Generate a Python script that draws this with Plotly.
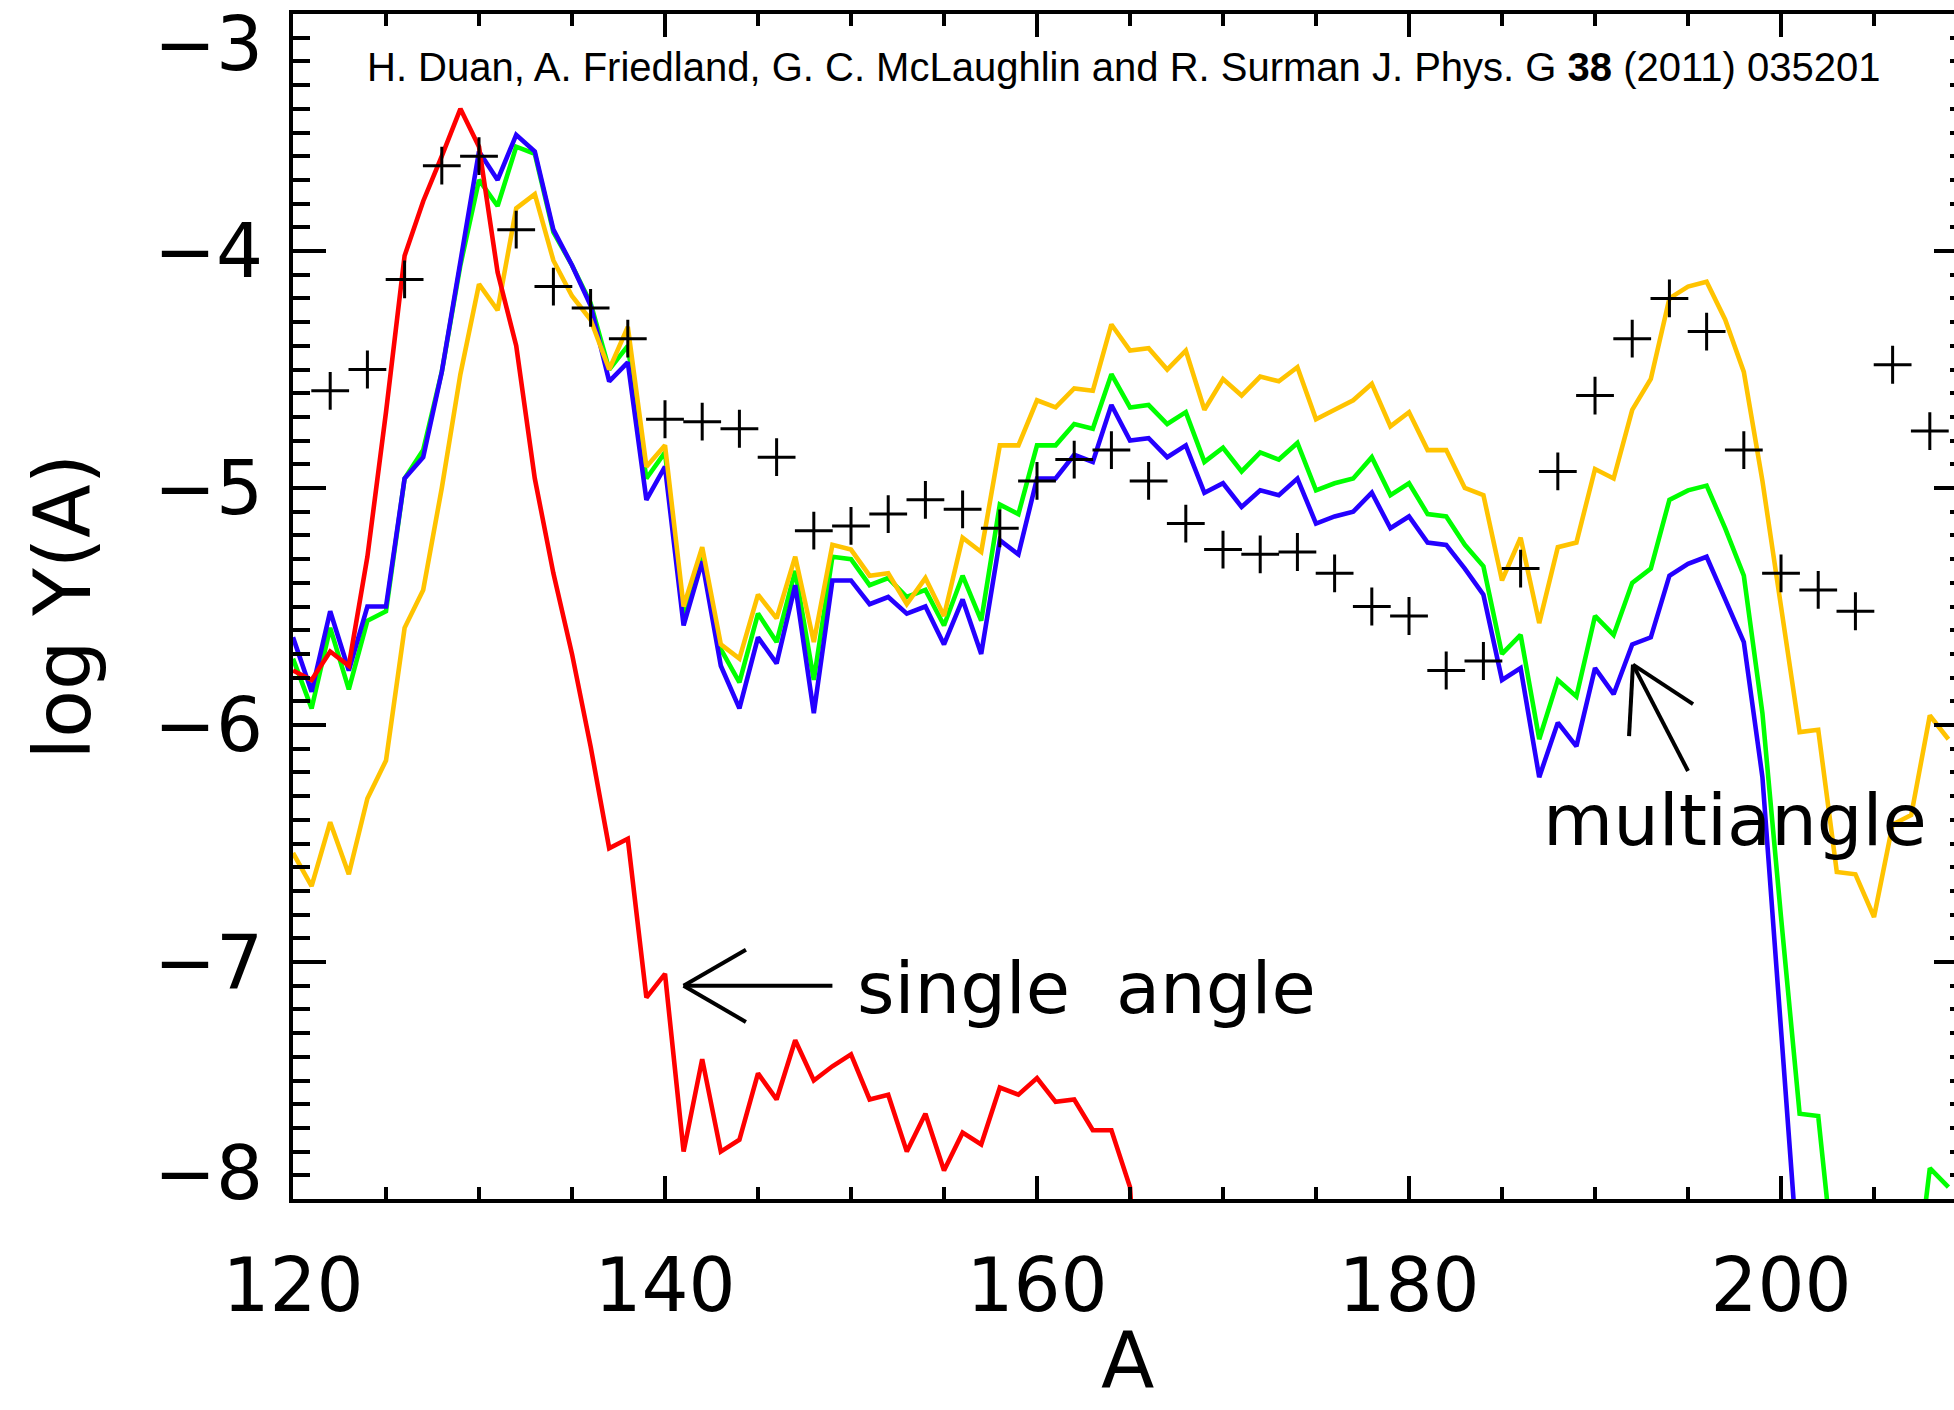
import plotly.graph_objects as go

# ---------------- data ----------------
A = list(range(120, 210))

red_A = list(range(120, 167))
red = [-5.77, -5.81, -5.69, -5.75, -5.29, -4.68, -4.02, -3.79, -3.60, -3.40,
       -3.56, -4.09, -4.40, -4.96, -5.36, -5.70, -6.09, -6.52, -6.48, -7.15,
       -7.05, -7.80, -7.41, -7.80, -7.75, -7.47, -7.58, -7.33, -7.50, -7.44,
       -7.39, -7.58, -7.56, -7.80, -7.64, -7.88, -7.72, -7.77, -7.53, -7.56,
       -7.49, -7.59, -7.58, -7.71, -7.71, -7.95, -9.20]

green = [-5.72, -5.93, -5.59, -5.85, -5.56, -5.52, -4.96, -4.84, -4.51, -4.06,
         -3.70, -3.81, -3.56, -3.59, -3.92, -4.06, -4.22, -4.50, -4.40, -4.96,
         -4.85, -5.53, -5.28, -5.68, -5.82, -5.53, -5.65, -5.35, -5.81, -5.29,
         -5.30, -5.41, -5.38, -5.46, -5.43, -5.58, -5.37, -5.56, -5.07, -5.11,
         -4.82, -4.82, -4.73, -4.75, -4.52, -4.66, -4.65, -4.73, -4.68, -4.89,
         -4.83, -4.93, -4.85, -4.88, -4.81, -5.01, -4.98, -4.96, -4.87, -5.03,
         -4.98, -5.11, -5.12, -5.24, -5.33, -5.70, -5.62, -6.06, -5.81, -5.88,
         -5.54, -5.62, -5.40, -5.34, -5.05, -5.01, -4.99, -5.17, -5.37, -5.95,
         -6.81, -7.64, -7.65, -8.40, -8.90, -9.10, -9.00, -8.52, -7.87, -7.95]

blue = [-5.63, -5.86, -5.52, -5.77, -5.50, -5.50, -4.96, -4.87, -4.51, -4.05,
        -3.58, -3.70, -3.51, -3.58, -3.91, -4.06, -4.23, -4.55, -4.47, -5.05,
        -4.91, -5.58, -5.31, -5.75, -5.93, -5.63, -5.74, -5.41, -5.95, -5.39,
        -5.39, -5.49, -5.46, -5.53, -5.50, -5.66, -5.47, -5.70, -5.22, -5.28,
        -4.96, -4.96, -4.86, -4.89, -4.65, -4.80, -4.79, -4.87, -4.82, -5.02,
        -4.98, -5.08, -5.01, -5.03, -4.96, -5.15, -5.12, -5.10, -5.02, -5.17,
        -5.12, -5.23, -5.24, -5.34, -5.45, -5.81, -5.76, -6.22, -5.99, -6.09,
        -5.76, -5.87, -5.66, -5.63, -5.37, -5.32, -5.29, -5.47, -5.65, -6.22,
        -7.27, -8.35, -8.90, -9.20, -9.30, -9.30, -9.40, -9.40, -9.50, -9.50]

yellow = [-6.54, -6.68, -6.41, -6.63, -6.31, -6.15, -5.59, -5.43, -5.00, -4.52,
          -4.14, -4.25, -3.82, -3.76, -4.04, -4.19, -4.29, -4.50, -4.32, -4.91,
          -4.82, -5.50, -5.25, -5.66, -5.72, -5.45, -5.55, -5.29, -5.65, -5.24,
          -5.26, -5.37, -5.36, -5.49, -5.38, -5.54, -5.21, -5.27, -4.82, -4.82,
          -4.63, -4.66, -4.58, -4.59, -4.31, -4.42, -4.41, -4.50, -4.42, -4.67,
          -4.54, -4.61, -4.53, -4.55, -4.49, -4.71, -4.67, -4.63, -4.56, -4.74,
          -4.68, -4.84, -4.84, -5.00, -5.03, -5.39, -5.21, -5.57, -5.25, -5.23,
          -4.92, -4.96, -4.67, -4.54, -4.20, -4.15, -4.13, -4.29, -4.51, -4.97,
          -5.50, -6.03, -6.02, -6.62, -6.63, -6.81, -6.42, -6.38, -5.96, -6.06]

obs_A = list(range(122, 209, 2))
obs = [-4.59, -4.50, -4.12, -3.64, -3.60, -3.91, -4.15, -4.24, -4.37, -4.71,
       -4.72, -4.75, -4.87, -5.18, -5.16, -5.11, -5.05, -5.09, -5.17, -4.97,
       -4.88, -4.84, -4.97, -5.15, -5.26, -5.28, -5.27, -5.36, -5.50, -5.54,
       -5.77, -5.73, -5.34, -4.93, -4.61, -4.37, -4.20, -4.34, -4.84, -5.36,
       -5.43, -5.52, -4.48, -4.76]

x_ticks = [120, 140, 160, 180, 200]
y_ticks = [-8, -7, -6, -5, -4, -3]
y_tick_text = ["\u22128", "\u22127", "\u22126", "\u22125", "\u22124", "\u22123"]

citation = ("H. Duan, A. Friedland, G. C. McLaughlin and R. Surman J. Phys. G "
            "<b>38</b> (2011) 035201")

# annotation arrows (open arrowheads): (x0, y0, x1, y1)
single_arrow = [(149.0, -7.10, 141.0, -7.10),
                (141.0, -7.10, 144.35, -6.948),
                (141.0, -7.10, 144.35, -7.253)]
multi_arrow = [(195.0, -6.194, 192.04, -5.745),
               (192.04, -5.745, 191.83, -6.047),
               (192.04, -5.745, 195.27, -5.912)]

# ---------------- figure ----------------
LW = 4.6
fig = go.Figure()
fig.add_trace(go.Scatter(x=A, y=green, mode="lines",
                         line=dict(color="#00FF00", width=LW), showlegend=False))
fig.add_trace(go.Scatter(x=A, y=blue, mode="lines",
                         line=dict(color="#2400FF", width=LW), showlegend=False))
fig.add_trace(go.Scatter(x=A, y=yellow, mode="lines",
                         line=dict(color="#FFC300", width=LW), showlegend=False))
fig.add_trace(go.Scatter(x=red_A, y=red, mode="lines",
                         line=dict(color="#FF0000", width=LW), showlegend=False))
fig.add_trace(go.Scatter(x=obs_A, y=obs, mode="markers",
                         marker=dict(symbol="cross-thin", size=27, color="black",
                                     line=dict(color="black", width=3)),
                         showlegend=False))
# invisible trace to create the right-hand tick axis
fig.add_trace(go.Scatter(x=[None], y=[None], yaxis="y2", showlegend=False,
                         hoverinfo="skip"))

TICKFONT = dict(family="DejaVu Sans", size=74, color="black")
TITLEFONT = dict(family="DejaVu Sans", size=78, color="black")

fig.update_layout(
    width=1954, height=1410, autosize=False,
    margin=dict(l=293, r=0, t=14, b=211, pad=0),
    paper_bgcolor="white", plot_bgcolor="white",
    xaxis=dict(range=[120, 209.3], showgrid=False, zeroline=False,
               showline=True, linecolor="black", linewidth=4, mirror="ticks",
               ticks="inside", ticklen=23, tickwidth=4, tickcolor="black",
               tickvals=x_ticks, tickfont=TICKFONT, ticklabelstandoff=19,
               minor=dict(dtick=5, tick0=120, ticks="inside", ticklen=12,
                          tickwidth=4, tickcolor="black", showgrid=False)),
    yaxis=dict(range=[-8, -3], showgrid=False, zeroline=False,
               showline=True, linecolor="black", linewidth=4,
               ticks="inside", ticklen=33, tickwidth=4, tickcolor="black",
               tickvals=y_ticks, showticklabels=False,
               minor=dict(dtick=0.1, tick0=-8, ticks="inside", ticklen=17,
                          tickwidth=4, tickcolor="black", showgrid=False)),
    yaxis2=dict(range=[-8, -3], overlaying="y", side="right", showgrid=False,
                zeroline=False, showline=False, ticks="inside", ticklen=20,
                tickwidth=4, tickcolor="black", tickvals=y_ticks,
                showticklabels=False,
                minor=dict(dtick=0.1, tick0=-8, ticks="inside", ticklen=4,
                           tickwidth=4, tickcolor="black", showgrid=False)),
)

annotations = []
for v, t in zip(y_ticks, y_tick_text):
    shift = 0
    if v == -3:
        shift = -30
    elif v == -8:
        shift = 26
    annotations.append(dict(x=0, xref="paper", y=v, yref="y", text=t,
                            showarrow=False, xanchor="right", yanchor="middle",
                            xshift=-28, yshift=shift, font=TICKFONT))
annotations.append(dict(x=0, xref="paper", y=0.5, yref="paper", text="log Y(A)",
                        showarrow=False, textangle=-90, xanchor="center",
                        yanchor="middle", xshift=-231, font=TITLEFONT))
annotations.append(dict(x=0.5, xref="paper", y=0, yref="paper", text="A",
                        showarrow=False, xanchor="center", yanchor="bottom",
                        xshift=4, yshift=-209, font=TITLEFONT))
annotations.append(dict(x=0.5, xref="paper", y=1, yref="paper", text=citation,
                        showarrow=False, xanchor="center", yanchor="middle",
                        yshift=-53,
                        font=dict(family="Liberation Sans", size=40, color="black")))
ANNFONT = dict(family="DejaVu Sans", size=72, color="black")
annotations.append(dict(x=150.2, y=-7.11, xref="x", yref="y",
                        text="single\u00a0\u00a0angle", showarrow=False,
                        xanchor="left", yanchor="middle", font=ANNFONT))
annotations.append(dict(x=187.1, y=-6.40, xref="x", yref="y",
                        text="multiangle", showarrow=False,
                        xanchor="left", yanchor="middle", font=ANNFONT))
fig.update_layout(annotations=annotations)

shapes = []
for x0, y0, x1, y1 in single_arrow + multi_arrow:
    shapes.append(dict(type="line", xref="x", yref="y", x0=x0, y0=y0, x1=x1, y1=y1,
                       line=dict(color="black", width=4)))
fig.update_layout(shapes=shapes)

fig.write_html("out.html")
